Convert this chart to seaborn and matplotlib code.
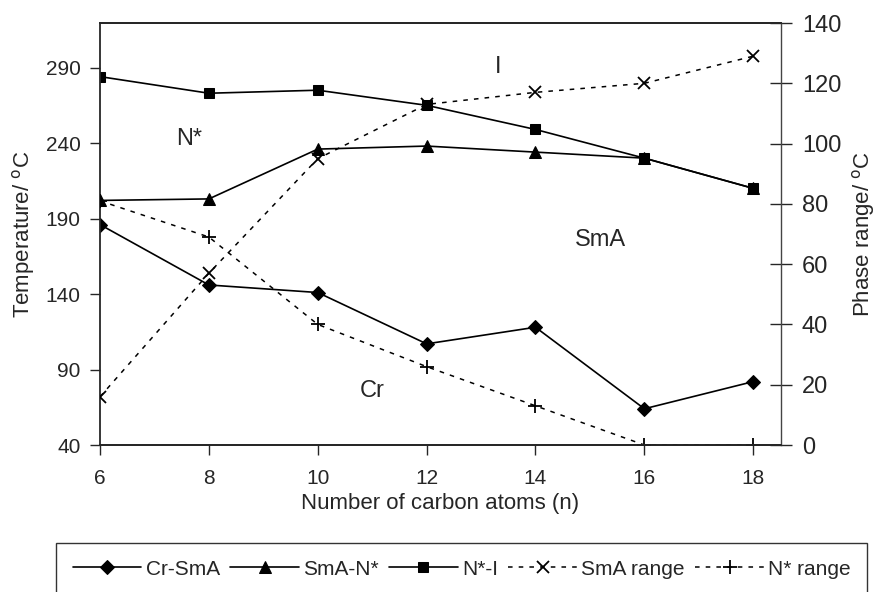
"""Transition temperatures and phase ranges vs alkyl chain length."""

import matplotlib
matplotlib.use("Agg")
import matplotlib.pyplot as plt
import seaborn as sns

# carbon atoms in the chain
carbons = [6, 8, 10, 12, 14, 16, 18]

# transition temperatures (deg C), left axis
cr_sma = [186, 146, 141, 107, 118, 64, 82]
sma_nstar = [202, 203, 236, 238, 234, 230, 210]
nstar_i = [284, 273, 275, 265, 249, 230, 210]

# phase ranges (deg C), right axis
sma_range = [16, 57, 95, 113, 117, 120, 129]
nstar_range = [81, 69, 40, 26, 13, 0, 0]

temp_ticks = [40, 90, 140, 190, 240, 290]
range_ticks = [0, 20, 40, 60, 80, 100, 120, 140]

sns.set_style("ticks")
plt.rcParams["font.family"] = ["Liberation Sans", "DejaVu Sans"]
plt.rcParams["axes.linewidth"] = 1.3

fig = plt.figure(figsize=(8.79, 5.92), dpi=100)
ax = fig.add_axes([0.1138, 0.2483, 0.7747, 0.7128])
ax2 = ax.twinx()

line_kw = dict(color="black", linewidth=1.2, markeredgecolor="black")
sns.lineplot(x=carbons, y=cr_sma, ax=ax, marker="D", markersize=7,
             label="Cr-SmA", legend=False, **line_kw)
sns.lineplot(x=carbons, y=sma_nstar, ax=ax, marker="^", markersize=8.5,
             label="SmA-N*", legend=False, **line_kw)
sns.lineplot(x=carbons, y=nstar_i, ax=ax, marker="s", markersize=7.5,
             label="N*-I", legend=False, **line_kw)

dash_kw = dict(color="black", linewidth=1.1, linestyle=(0, (3, 4)),
               markeredgecolor="black", markeredgewidth=1.3)
sns.lineplot(x=carbons, y=sma_range, ax=ax2, marker="x", markersize=9,
             label="SmA range", legend=False, **dash_kw)
sns.lineplot(x=carbons, y=nstar_range, ax=ax2, marker="+", markersize=10,
             label="N* range", legend=False, **dash_kw)

ax.set_xlim(6, 18.51)
ax.set_ylim(40, 319.5)
ax.set_xticks(carbons)
ax.set_yticks(temp_ticks)
ax2.set_ylim(0, 140)
ax2.set_yticks(range_ticks)

ax.tick_params(axis="both", labelsize=15, length=7, width=1, direction="out", pad=7)
ax.tick_params(axis="x", pad=10)
ax2.tick_params(axis="y", labelsize=17, length=16, width=1, direction="inout", pad=7)
ax2.spines["right"].set_linewidth(1.0)
ax2.spines["right"].set_color("#444444")
ax.spines["right"].set_visible(False)
ax2.spines["left"].set_visible(False)

ax.set_xlabel("Number of carbon atoms (n)", fontsize=16, labelpad=4)
ax.set_ylabel("Temperature/ $^{\\mathrm{o}}$C", fontsize=16, labelpad=6)
ax2.set_ylabel("Phase range/ $^{\\mathrm{o}}$C", fontsize=16, labelpad=6)

# phase region labels
ax.text(0.585, 0.895, "I", transform=ax.transAxes, fontsize=17, ha="center", va="center")
ax.text(0.131, 0.725, "N*", transform=ax.transAxes, fontsize=17, ha="center", va="center")
ax.text(0.735, 0.487, "SmA", transform=ax.transAxes, fontsize=17, ha="center", va="center")
ax.text(0.400, 0.128, "Cr", transform=ax.transAxes, fontsize=17, ha="center", va="center")

handles = ax.get_lines()[:3] + ax2.get_lines()[:2]
labels = ["Cr-SmA", "SmA-N*", "N*-I", "SmA range", "N* range"]
fig.legend(handles, labels, loc="upper left", bbox_to_anchor=(56 / 879, 1 - 543 / 592),
           ncol=5, fontsize=15, frameon=True, fancybox=False, edgecolor="black",
           handlelength=3.3, columnspacing=0.5, handletextpad=0.2,
           borderpad=0.8, borderaxespad=0)

fig.savefig("out.png", dpi=100)
plt.close(fig)
